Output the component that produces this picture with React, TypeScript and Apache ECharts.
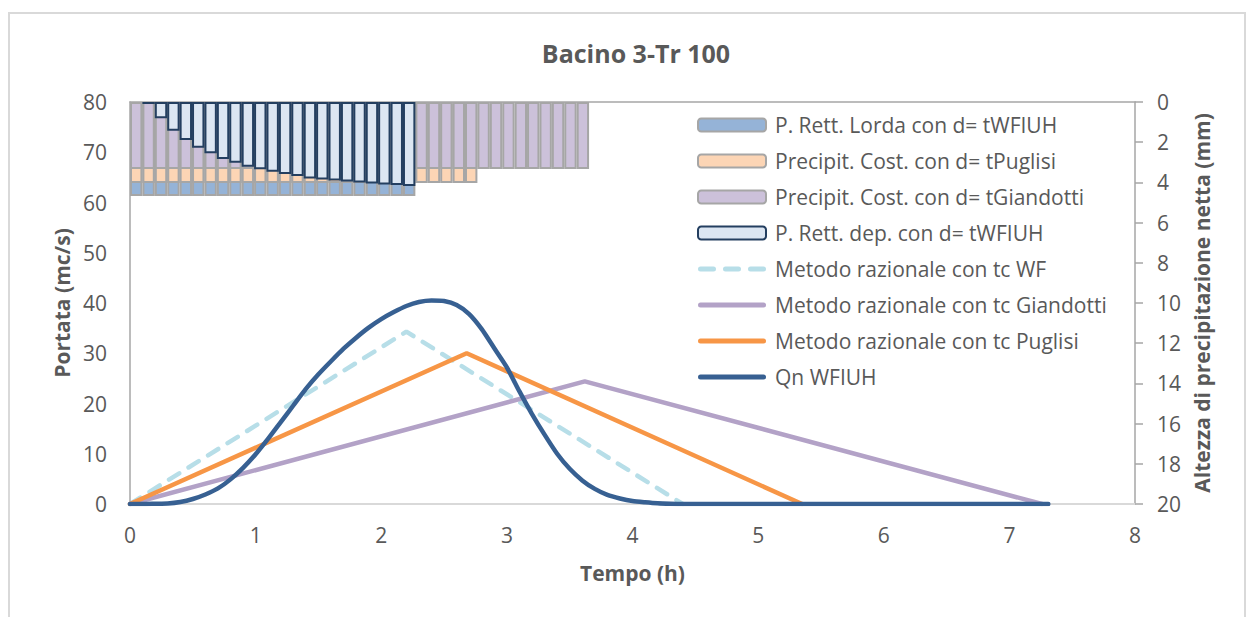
import React, { useEffect, useRef } from "react";
import * as echarts from "echarts";

// ---- data ----
const title = "Bacino 3-Tr 100";
const xTicks = [0, 1, 2, 3, 4, 5, 6, 7, 8];

// precipitation bars (mm), one bar per 0.1 h slot, on the inverted right axis
const barSlots = Array.from({ length: 81 }, (_, i) => String(i + 1));
const lordaWF = [4.68, 4.68, 4.68, 4.68, 4.68, 4.68, 4.68, 4.68, 4.68, 4.68, 4.68, 4.68, 4.68, 4.68, 4.68, 4.68, 4.68, 4.68, 4.68, 4.68, 4.68, 4.68, 4.68];
const costPuglisi = [4.03, 4.03, 4.03, 4.03, 4.03, 4.03, 4.03, 4.03, 4.03, 4.03, 4.03, 4.03, 4.03, 4.03, 4.03, 4.03, 4.03, 4.03, 4.03, 4.03, 4.03, 4.03, 4.03, 4.03, 4.03, 4.03, 4.03, 4.03];
const costGiandotti = [3.33, 3.33, 3.33, 3.33, 3.33, 3.33, 3.33, 3.33, 3.33, 3.33, 3.33, 3.33, 3.33, 3.33, 3.33, 3.33, 3.33, 3.33, 3.33, 3.33, 3.33, 3.33, 3.33, 3.33, 3.33, 3.33, 3.33, 3.33, 3.33, 3.33, 3.33, 3.33, 3.33, 3.33, 3.33, 3.33, 3.33];
const depWF = [null, 0.1, 0.81, 1.43, 1.89, 2.27, 2.55, 2.84, 3.02, 3.22, 3.35, 3.47, 3.58, 3.68, 3.8, 3.86, 3.91, 3.96, 4.01, 4.06, 4.1, 4.13, 4.18];

// rational method hydrographs (t in h, Q in mc/s)
const wfT = [0, 2.2, 4.4];
const wfQ = [0, 34.3, 0];
const giaT = [0, 3.62, 7.26];
const giaQ = [0, 24.4, 0];
const pugT = [0, 2.68, 5.35];
const pugQ = [0, 30.0, 0];

// Qn WFIUH
const qnT = [0, 0.1, 0.2, 0.3, 0.4, 0.5, 0.6, 0.7, 0.8, 0.9, 1.0, 1.1, 1.2, 1.3, 1.4, 1.5, 1.6, 1.7, 1.8, 1.9, 2.0, 2.1, 2.2, 2.3, 2.4, 2.5, 2.6, 2.7, 2.8, 2.9, 3.0, 3.1, 3.2, 3.3, 3.4, 3.5, 3.6, 3.7, 3.8, 3.9, 4.0, 4.1, 4.2, 4.3, 4.4, 7.31];
const qnQ = [0, 0, 0.05, 0.1, 0.4, 1.0, 1.9, 3.1, 4.9, 7.2, 9.9, 13.0, 16.3, 19.6, 22.9, 25.8, 28.4, 30.9, 33.1, 35.1, 36.8, 38.2, 39.4, 40.2, 40.5, 40.4, 39.6, 37.8, 34.8, 31.0, 27.2, 22.4, 17.9, 13.8, 10.0, 7.0, 4.7, 3.0, 1.8, 1.1, 0.6, 0.35, 0.15, 0.05, 0, 0];

const names = {
  lorda: "P. Rett. Lorda con d= tWFIUH",
  pug: "Precipit. Cost. con d= tPuglisi",
  gia: "Precipit. Cost. con d= tGiandotti",
  dep: "P. Rett. dep. con d= tWFIUH",
  wf: "Metodo razionale con tc WF",
  giaL: "Metodo razionale con tc Giandotti",
  pugL: "Metodo razionale con tc Puglisi",
  qn: "Qn WFIUH",
};

const pair = (t: number[], q: number[]) => t.map((v, i) => [v, q[i]]);

const FONT = "Open Sans";
const TXT = "#595959";

// legend icons for the line series (solid and dashed strokes)
const solidIcon = "path://M2.5,0 H65.5 A2.5,2.5 0 0 1 65.5,5 H2.5 A2.5,2.5 0 0 1 2.5,0 Z";
const dashedIcon =
  "path://M2.5,0 H15.5 A2.5,2.5 0 0 1 15.5,5 H2.5 A2.5,2.5 0 0 1 2.5,0 Z M27.5,0 H40.5 A2.5,2.5 0 0 1 40.5,5 H27.5 A2.5,2.5 0 0 1 27.5,0 Z M52.5,0 H65.5 A2.5,2.5 0 0 1 65.5,5 H52.5 A2.5,2.5 0 0 1 52.5,0 Z";

export default function App() {
  const ref = useRef<HTMLDivElement>(null);
  useEffect(() => {
    document.body.style.margin = "0";
    const chart = echarts.init(ref.current!, null, { renderer: "svg" });
    const grayBar = (color: string) => ({ color, borderColor: "#a6a6a6", borderWidth: 2 });
    const C = { wf: "#b7dee8", gia: "#b3a2c7", pug: "#f79646", qn: "#376092" };
    chart.setOption({
      animation: false,
      textStyle: { fontFamily: FONT },
      title: {
        text: title,
        left: 631,
        textAlign: "center",
        top: 35,
        textStyle: { fontFamily: FONT, fontSize: 25, fontWeight: "bold", color: TXT },
      },
      graphic: [
        {
          type: "rect",
          shape: { x: 9, y: 13, width: 1236, height: 620 },
          style: { fill: "none", stroke: "#d9d9d9", lineWidth: 2 },
          silent: true,
        },
      ],
      legend: {
        orient: "vertical",
        left: 697,
        top: 114,
        padding: 0,
        itemWidth: 68,
        itemHeight: 13,
        itemGap: 14,
        textStyle: { fontFamily: FONT, fontSize: 21, color: TXT, lineHeight: 22, padding: [0, 0, 0, 4] },
        data: [
          names.lorda,
          names.pug,
          names.gia,
          names.dep,
          { name: names.wf, icon: dashedIcon, itemStyle: { color: C.wf, borderWidth: 0 } },
          { name: names.giaL, icon: solidIcon, itemStyle: { color: C.gia, borderWidth: 0 } },
          { name: names.pugL, icon: solidIcon, itemStyle: { color: C.pug, borderWidth: 0 } },
          { name: names.qn, icon: solidIcon, itemStyle: { color: C.qn, borderWidth: 0 } },
        ],
      },
      grid: { left: 130, right: 119, top: 102, bottom: 113 },
      xAxis: [
        {
          type: "value",
          min: 0,
          max: 8,
          interval: 1,
          data: xTicks,
          position: "bottom",
          name: "Tempo (h)",
          nameLocation: "middle",
          nameGap: 58,
          nameTextStyle: { fontFamily: FONT, fontSize: 21, fontWeight: "bold", color: TXT },
          axisLine: { show: true, lineStyle: { color: "#d9d9d9", width: 2 } },
          axisTick: { show: false },
          splitLine: { show: false },
          axisLabel: { fontFamily: FONT, fontSize: 21, color: TXT, margin: 20 },
        },
        {
          type: "category",
          data: barSlots,
          position: "top",
          boundaryGap: true,
          axisLine: { show: true, lineStyle: { color: "#a6a6a6", width: 1.5 } },
          axisTick: { show: false },
          axisLabel: { show: false },
          splitLine: { show: false },
        },
      ],
      yAxis: [
        {
          type: "value",
          min: 0,
          max: 80,
          interval: 10,
          position: "left",
          name: "Portata (mc/s)",
          nameLocation: "middle",
          nameGap: 47,
          nameTextStyle: { fontFamily: FONT, fontSize: 21, fontWeight: "bold", color: TXT },
          axisLine: { show: true, lineStyle: { color: "#a6a6a6", width: 1.5 } },
          axisTick: { show: false },
          splitLine: { show: false },
          axisLabel: { fontFamily: FONT, fontSize: 21, color: TXT, margin: 23 },
        },
        {
          type: "value",
          min: 0,
          max: 20,
          interval: 2,
          inverse: true,
          position: "right",
          name: "Altezza di precipitazione netta (mm)",
          nameLocation: "middle",
          nameGap: 40,
          nameRotate: 90,
          nameTextStyle: { fontFamily: FONT, fontSize: 21, fontWeight: "bold", color: TXT },
          axisLine: { show: true, lineStyle: { color: "#a6a6a6", width: 1.5 } },
          axisTick: { show: true, inside: false, length: 8, lineStyle: { color: "#a6a6a6", width: 1.5 } },
          splitLine: { show: false },
          axisLabel: { fontFamily: FONT, fontSize: 21, color: TXT, margin: 22 },
        },
      ],
      series: [
        {
          name: names.lorda,
          type: "bar",
          xAxisIndex: 1,
          yAxisIndex: 1,
          data: lordaWF,
          barGap: "-100%",
          barCategoryGap: "0%",
          itemStyle: grayBar("#95b3d7"),
        },
        {
          name: names.pug,
          type: "bar",
          xAxisIndex: 1,
          yAxisIndex: 1,
          data: costPuglisi,
          barGap: "-100%",
          barCategoryGap: "0%",
          itemStyle: grayBar("#fcd5b5"),
        },
        {
          name: names.gia,
          type: "bar",
          xAxisIndex: 1,
          yAxisIndex: 1,
          data: costGiandotti,
          barGap: "-100%",
          barCategoryGap: "0%",
          itemStyle: grayBar("#ccc1da"),
        },
        {
          name: names.dep,
          type: "bar",
          xAxisIndex: 1,
          yAxisIndex: 1,
          data: depWF,
          barGap: "-100%",
          barCategoryGap: "0%",
          itemStyle: { color: "#dce6f2", borderColor: "#243f60", borderWidth: 2 },
        },
        {
          name: names.wf,
          type: "line",
          xAxisIndex: 0,
          yAxisIndex: 0,
          data: pair(wfT, wfQ),
          symbol: "none",
          itemStyle: { color: C.wf },
          lineStyle: { color: C.wf, width: 4.5, type: [12, 11], cap: "round" },
        },
        {
          name: names.giaL,
          type: "line",
          xAxisIndex: 0,
          yAxisIndex: 0,
          data: pair(giaT, giaQ),
          symbol: "none",
          itemStyle: { color: C.gia },
          lineStyle: { color: C.gia, width: 4.5, cap: "round" },
        },
        {
          name: names.pugL,
          type: "line",
          xAxisIndex: 0,
          yAxisIndex: 0,
          data: pair(pugT, pugQ),
          symbol: "none",
          itemStyle: { color: C.pug },
          lineStyle: { color: C.pug, width: 4.5, cap: "round" },
        },
        {
          name: names.qn,
          type: "line",
          xAxisIndex: 0,
          yAxisIndex: 0,
          data: pair(qnT, qnQ),
          symbol: "none",
          smooth: 0.2,
          itemStyle: { color: C.qn },
          lineStyle: { color: C.qn, width: 4.5, cap: "round" },
        },
      ],
    });
    return () => chart.dispose();
  }, []);
  return <div ref={ref} style={{ width: 1254, height: 617 }} />;
}
